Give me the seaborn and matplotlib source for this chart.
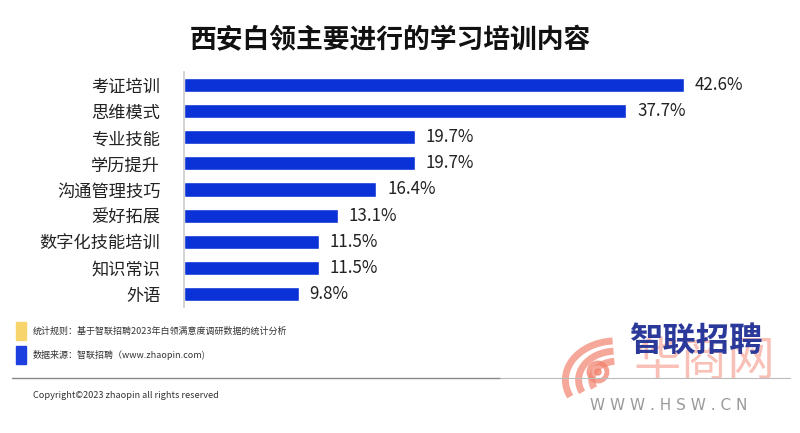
import matplotlib
matplotlib.use("Agg")
import matplotlib.pyplot as plt
import seaborn as sns
import pandas as pd
from matplotlib.patches import Rectangle, Circle, Arc

categories = ["考证培训", "思维模式", "专业技能", "学历提升", "沟通管理技巧",
              "爱好拓展", "数字化技能培训", "知识常识", "外语"]
values = [42.6, 37.7, 19.7, 19.7, 16.4, 13.1, 11.5, 11.5, 9.8]
value_labels = ["42.6%", "37.7%", "19.7%", "19.7%", "16.4%", "13.1%", "11.5%", "11.5%", "9.8%"]

title = "西安白领主要进行的学习培训内容"
note1 = "统计规则：基于智联招聘2023年白领满意度调研数据的统计分析"
note2 = "数据来源：智联招聘（www.zhaopin.com)"
copyright_text = "Copyright©2023 zhaopin all rights reserved"

sns.set_theme(style="white")
plt.rcParams['font.family'] = ['Noto Sans CJK SC', 'DejaVu Sans']

df = pd.DataFrame({"cat": categories, "val": values})

fig = plt.figure(figsize=(8, 4.33), dpi=100)

# overlay axes in pixel coordinates for decorations
ov = fig.add_axes([0, 0, 1, 1], zorder=0)
ov.set_xlim(0, 800)
ov.set_ylim(433, 0)
ov.axis("off")

ax = fig.add_axes([184/800, 1-307/433, 575/800, 235/433], zorder=2)
ax.patch.set_alpha(0)
sns.barplot(data=df, y="cat", x="val", orient="h", color="#0A32D6",
            width=0.54, saturation=1, ax=ax)
ax.set_xlim(0, 49)
ax.set_ylim(8.5, -0.5)
ax.set_xlabel("")
ax.set_ylabel("")
ax.set_xticks([])
for s in ["top", "right", "bottom"]:
    ax.spines[s].set_visible(False)
ax.spines["left"].set_color("#cccccc")
ax.spines["left"].set_linewidth(1.2)
ax.tick_params(axis="y", length=0, pad=17, labelsize=12.4, labelcolor="#222222")

for i, (v, lab) in enumerate(zip(values, value_labels)):
    ax.text(v + 0.9, i, lab, va="center", ha="left", fontsize=12.2,
            color="#222222", family=['Noto Sans CJK SC', 'DejaVu Sans'])

fig.text(390/800, 1-40/433, title, ha="center", va="center", fontsize=19.3,
         fontweight="bold", color="#111111")

# footer legend squares
ov.add_patch(Rectangle((16, 322), 10, 18, color="#F8D46C"))
ov.add_patch(Rectangle((16, 346), 10, 18, color="#1E3FE0"))
ov.text(33, 331, note1, ha="left", va="center", fontsize=6.5, color="#333333")
ov.text(33, 355, note2, ha="left", va="center", fontsize=6.5, color="#333333")
ov.plot([12, 500], [378, 378], color="#888888", lw=1)
ov.plot([500, 790], [378, 378], color="#bbbbbb", lw=0.8)
ov.text(33, 395, copyright_text, ha="left", va="center", fontsize=6.6,
        color="#333333")

# watermark (red, behind) and logo
wm = "#F2836F"
ov.add_patch(Circle((598, 372), 9, fill=False, ec=wm, lw=3.5, alpha=0.75))
ov.add_patch(Circle((598, 372), 3, color=wm, alpha=0.75))
for r, lw in [(22, 5), (34, 5), (46, 5)]:
    ov.add_patch(Arc((616, 380), 2*r*1.1, 2*r*0.85, theta1=160, theta2=265,
                     ec=wm, lw=lw, alpha=0.7))
ov.text(705, 362, "华商网", ha="center", va="center", fontsize=34,
        color=wm, alpha=0.5, zorder=1)
ov.text(630, 342, "智联招聘", ha="left", va="center", fontsize=24,
        fontweight="bold", color="#2B3A9A", zorder=3)
ov.text(669, 406, "W W W . H S W . C N", ha="center", va="center",
        fontsize=11, color="#9a9a9a", family="DejaVu Sans")

fig.savefig("out.png", dpi=100)
